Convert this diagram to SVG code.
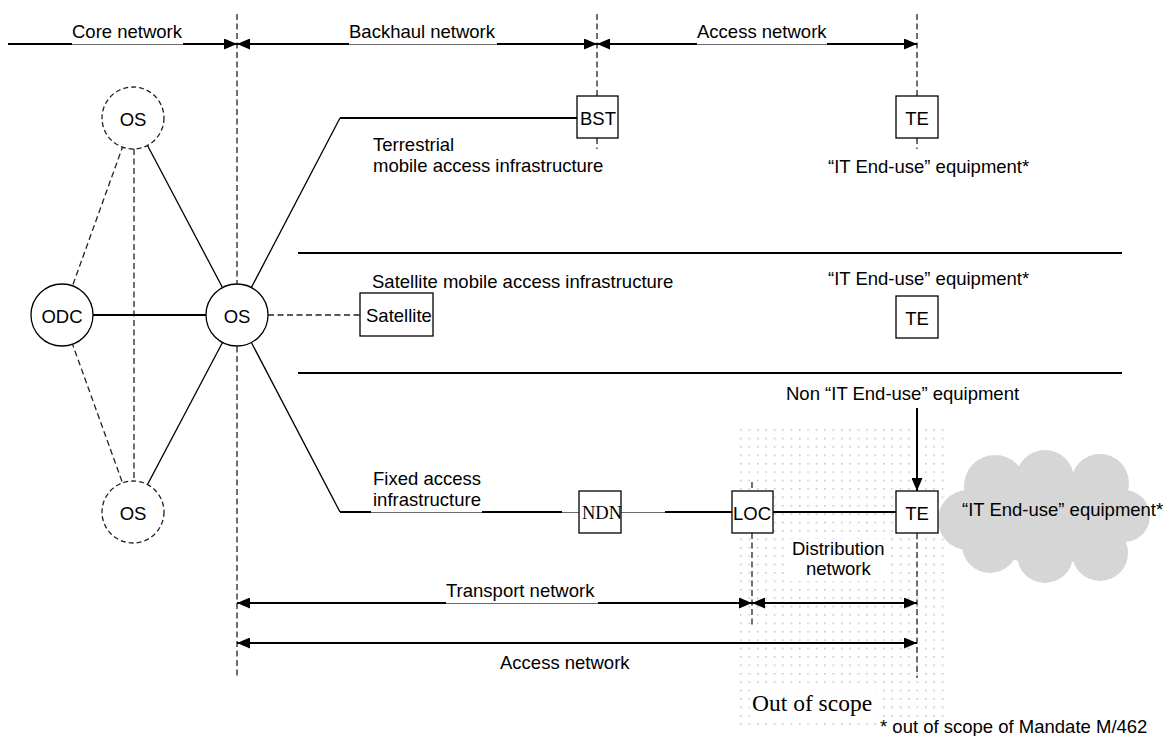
<svg xmlns="http://www.w3.org/2000/svg" width="1165" height="736" viewBox="0 0 1165 736">
  <style>
    text { font-family: "Liberation Sans", Arial, sans-serif; font-size: 18.5px; fill: #000; }
    .serif { font-family: "Liberation Serif", "Times New Roman", serif; }
    .mid { text-anchor: middle; }
    .thick { stroke: #000; stroke-width: 2; fill: none; }
    .thin { stroke: #000; stroke-width: 1.3; fill: none; }
    .dash { stroke: #222; stroke-width: 1.3; fill: none; stroke-dasharray: 6 3.5; }
    .soft { stroke: #6a6a6a; stroke-width: 1; fill: none; }
    .box { fill: #fff; stroke: #000; stroke-width: 1.3; }
    .node { fill: #fff; stroke: #000; stroke-width: 1.3; }
    .dnode { fill: #fff; stroke: #222; stroke-width: 1.3; stroke-dasharray: 5 3; }
    .arr { stroke: #000; stroke-width: 2; fill: none; marker-end: url(#head); }
    .arr2 { stroke: #000; stroke-width: 2; fill: none; marker-start: url(#head); marker-end: url(#head); }
  </style>
  <defs>
    <marker id="head" markerUnits="userSpaceOnUse" markerWidth="13" markerHeight="11" refX="13" refY="5.5" orient="auto-start-reverse">
      <path d="M0,0 L13,5.5 L0,11 z" fill="#000"/>
    </marker>
    <pattern id="stipple" patternUnits="userSpaceOnUse" width="8.4" height="8.4">
      <rect x="1" y="1" width="1.4" height="1.4" fill="#b4b4b4"/>
    </pattern>
  </defs>

  <rect width="1165" height="736" fill="#fff"/>

  <!-- out-of-scope stippled zone -->
  <g id="scope-zone">
    <rect x="738" y="428" width="208" height="302" fill="url(#stipple)"/>
    <rect x="789" y="539" width="98" height="42" fill="#fff"/>
    <rect x="750" y="690" width="126" height="28" fill="#fff"/>
    <rect x="877" y="719" width="288" height="17" fill="#fff"/>
  </g>

  <!-- cloud -->
  <g id="cloud" fill="#d6d6d6">
    <ellipse cx="1048" cy="518" rx="82" ry="46"/>
    <circle cx="968" cy="520" r="30"/>
    <circle cx="995" cy="486" r="31"/>
    <circle cx="1045" cy="479" r="29"/>
    <circle cx="1100" cy="483" r="29"/>
    <circle cx="1124" cy="516" r="26"/>
    <circle cx="1100" cy="553" r="28"/>
    <circle cx="1045" cy="555" r="28"/>
    <circle cx="990" cy="545" r="28"/>
  </g>

  <g id="connectors">
    <!-- boundary dashes -->
    <line class="dash" x1="237" y1="14" x2="237" y2="678"/>
    <line class="dash" x1="597" y1="14" x2="597" y2="96"/>
    <line class="dash" x1="597" y1="138" x2="597" y2="149"/>
    <line class="dash" x1="917" y1="14" x2="917" y2="96"/>
    <line class="dash" x1="917" y1="138" x2="917" y2="149"/>
    <line class="dash" x1="752" y1="482" x2="752" y2="491"/>
    <line class="dash" x1="752" y1="533" x2="752" y2="626"/>
    <line class="dash" x1="917" y1="533" x2="917" y2="678"/>

    <!-- top segment arrows -->
    <line class="arr" x1="8" y1="44" x2="237" y2="44"/>
    <line class="arr2" x1="237" y1="44" x2="597" y2="44"/>
    <line class="arr2" x1="597" y1="44" x2="917" y2="44"/>
    <rect x="72" y="42" width="111" height="3" fill="#fff"/>
    <rect x="349" y="42" width="148" height="3" fill="#fff"/>
    <rect x="697" y="42" width="130" height="3" fill="#fff"/>
    <line class="soft" x1="72" y1="44.5" x2="183" y2="44.5"/>
    <line class="soft" x1="349" y1="44.5" x2="497" y2="44.5"/>
    <line class="soft" x1="697" y1="44.5" x2="827" y2="44.5"/>

    <!-- core mesh -->
    <line class="dash" x1="133" y1="118" x2="62" y2="315"/>
    <line class="dash" x1="62" y1="315" x2="133" y2="512"/>
    <line class="dash" x1="134" y1="149" x2="134" y2="481"/>
    <line class="thin" x1="133" y1="118" x2="237" y2="315"/>
    <line class="thin" x1="133" y1="512" x2="237" y2="315"/>
    <line class="thick" x1="62" y1="315" x2="237" y2="315"/>
    <line class="dash" x1="268" y1="315" x2="360" y2="315"/>

    <!-- terrestrial branch -->
    <line class="thin" x1="237" y1="315" x2="340" y2="118"/>
    <line class="thick" x1="340" y1="118" x2="577" y2="118"/>

    <!-- fixed branch -->
    <line class="thin" x1="237" y1="315" x2="340" y2="512"/>
    <line class="thick" x1="340" y1="512" x2="371" y2="512"/>
    <line class="soft" x1="371" y1="512.5" x2="482" y2="512.5"/>
    <line class="thick" x1="482" y1="512" x2="562" y2="512"/>
    <line class="soft" x1="562" y1="512.5" x2="579" y2="512.5"/>
    <line class="soft" x1="621" y1="512.5" x2="665" y2="512.5"/>
    <line class="thick" x1="665" y1="512" x2="732" y2="512"/>
    <line class="thick" x1="773" y1="512" x2="896" y2="512"/>

    <!-- section separators -->
    <line class="thick" x1="298" y1="253" x2="1122" y2="253"/>
    <line class="thick" x1="298" y1="373" x2="1122" y2="373"/>

    <!-- non IT end-use pointer -->
    <line class="arr" x1="917" y1="408" x2="917" y2="491"/>

    <!-- bottom extents -->
    <line class="arr2" x1="237" y1="603" x2="752" y2="603"/>
    <line class="arr2" x1="752" y1="603" x2="917" y2="603"/>
    <rect x="446" y="601" width="152" height="2" fill="#fff"/>
    <line class="soft" x1="446" y1="603.5" x2="598" y2="603.5"/>
    <line class="arr2" x1="237" y1="643" x2="917" y2="643"/>
  </g>

  <!-- nodes -->
  <g id="os-top">
    <circle class="dnode" cx="133" cy="118" r="31"/>
    <text class="mid" x="133" y="126">OS</text>
  </g>
  <g id="odc">
    <circle class="node" cx="62" cy="315" r="31"/>
    <text class="mid" x="62" y="323">ODC</text>
  </g>
  <g id="os-main">
    <circle class="node" cx="237" cy="315" r="31"/>
    <text class="mid" x="237" y="323">OS</text>
  </g>
  <g id="os-bottom">
    <circle class="dnode" cx="133" cy="512" r="31"/>
    <text class="mid" x="133" y="520">OS</text>
  </g>

  <g id="bst">
    <rect class="box" x="577" y="96" width="41" height="42"/>
    <text x="580" y="125">BST</text>
  </g>
  <g id="te-mobile">
    <rect class="box" x="896" y="96" width="42" height="42"/>
    <text class="mid" x="917" y="125">TE</text>
  </g>
  <g id="satellite">
    <rect class="box" x="360" y="293" width="73" height="43"/>
    <text x="366" y="322">Satellite</text>
  </g>
  <g id="te-satellite">
    <rect class="box" x="896" y="296" width="42" height="42"/>
    <text class="mid" x="917" y="325">TE</text>
  </g>
  <g id="ndn">
    <rect class="box" x="579" y="491" width="42" height="42"/>
    <text class="serif" x="582" y="519">NDN</text>
  </g>
  <g id="loc">
    <rect class="box" x="732" y="491" width="41" height="42"/>
    <text x="733" y="520">LOC</text>
  </g>
  <g id="te-fixed">
    <rect class="box" x="896" y="491" width="42" height="42"/>
    <text class="mid" x="917" y="520">TE</text>
  </g>

  <!-- labels -->
  <g id="labels">
    <text x="72" y="38">Core network</text>
    <text x="349" y="38">Backhaul network</text>
    <text x="697" y="38">Access network</text>

    <text x="373" y="151">Terrestrial</text>
    <text x="373" y="172">mobile access infrastructure</text>
    <text x="828" y="173">“IT End-use” equipment*</text>

    <text x="372" y="288">Satellite mobile access infrastructure</text>
    <text x="828" y="285">“IT End-use” equipment*</text>

    <text x="786" y="400">Non “IT End-use” equipment</text>
    <text x="373" y="485">Fixed access</text>
    <text x="373" y="506">infrastructure</text>
    <text x="962" y="516">“IT End-use” equipment*</text>

    <text x="792" y="555">Distribution</text>
    <text x="806" y="575">network</text>
    <text x="446" y="597">Transport network</text>
    <text x="500" y="669">Access network</text>

    <text class="serif" x="752" y="711" style="font-size:23.5px">Out of scope</text>
    <text x="880" y="733">* out of scope of Mandate M/462</text>
  </g>
</svg>
